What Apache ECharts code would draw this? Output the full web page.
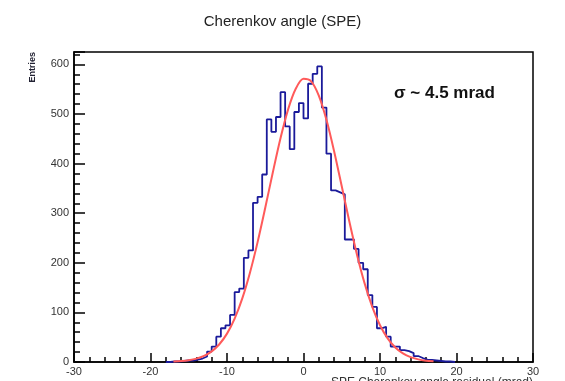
<!DOCTYPE html>
<html>
<head>
<meta charset="utf-8">
<script src="https://cdn.jsdelivr.net/npm/echarts@6/dist/echarts.min.js"></script>
<style>
html,body{margin:0;padding:0;background:#fff;}
#chart{width:565px;height:381px;}
</style>
</head>
<body>
<div id="chart"></div>
<script>
// Histogram definition (bins of 0.6 mrad starting at -18)
var binStart = -18;
var binWidth = 0.6;
var counts = [0, 1, 1, 2, 3, 3, 5, 7, 11, 21, 31, 51, 68, 74, 95, 141, 148, 210, 225,
  321, 333, 378, 489, 464, 494, 544, 475, 429, 504, 522, 491, 561, 581, 596, 513,
  420, 346, 342, 338, 247, 247, 228, 200, 187, 135, 111, 68, 71, 51, 31, 31, 24, 22,
  18, 12, 8, 5, 4, 3, 2, 1, 1, 0];

// Fit curve
var fitX = [-17,-16,-15,-14,-13,-12,-11,-10,-9,-8,-7,-6,-5,-4,-3,-2,-1,0,1,2,3,4,5,6,7,8,9,10,11,12,13,14,15,16,17];
var fitY = [0.9,1.8,3.6,6.8,12.3,21.5,35.8,57.2,87.5,128.3,180,241.7,311,383,451.6,509.9,551.4,570.9,565.9,537.2,488.3,425,354.2,282.6,215.9,158,110.7,74.2,47.7,29.3,17.3,9.7,5.3,2.7,1.3];

var xTicks = [-30, -20, -10, 0, 10, 20, 30];
var yTicks = [0, 100, 200, 300, 400, 500, 600];

var titleText = 'Cherenkov angle (SPE)';
var sigmaText = '\u03c3 ~ 4.5 mrad';
var yTitle = 'Entries';
var xTitle = 'SPE Cherenkov angle residual (mrad)';

var histData = [];
for (var i = 0; i < counts.length; i++) {
  histData.push([+(binStart + i * binWidth).toFixed(2), counts[i]]);
}
histData.push([+(binStart + counts.length * binWidth).toFixed(2), 0]);
var fitData = fitX.map(function (x, i) { return [x, fitY[i]]; });

var FONT = '"Liberation Sans", Arial, Helvetica, sans-serif';
var chart = echarts.init(document.getElementById('chart'), null, {renderer: 'canvas'});
var yMax = 625;
chart.setOption({
  animation: false,
  backgroundColor: '#fff',
  grid: {left: 74, right: 32, top: 52, bottom: 19, show: true, borderColor: '#000', borderWidth: 1.5, backgroundColor: 'transparent'},
  xAxis: [{
    type: 'value', min: xTicks[0], max: xTicks[xTicks.length - 1], interval: 10,
    position: 'bottom',
    axisLine: {show: true, onZero: false, lineStyle: {color: '#000', width: 1.5}},
    axisTick: {show: true, inside: true, length: 9, lineStyle: {color: '#000', width: 1.5}},
    minorTick: {show: true, splitNumber: 5, length: 5, lineStyle: {color: '#000', width: 1.5}},
    axisLabel: {show: true, fontFamily: FONT, fontSize: 11, color: '#333', margin: 4},
    splitLine: {show: false}, minorSplitLine: {show: false}
  }],
  yAxis: [{
    type: 'value', min: 0, max: yMax, interval: 100, position: 'left',
    axisLine: {show: true, onZero: false, lineStyle: {color: '#000', width: 1.5}},
    axisTick: {show: true, inside: true, length: 11, lineStyle: {color: '#000', width: 1.5}},
    axisLabel: {show: true, fontFamily: FONT, fontSize: 11, color: '#333', margin: 5,
      formatter: function (v) { return yTicks.indexOf(v) >= 0 ? String(v) : ''; }},
    splitLine: {show: false}
  }, {
    type: 'value', min: 0, max: yMax, interval: 20, position: 'left', offset: 0,
    axisLine: {show: false, onZero: false},
    axisTick: {show: true, inside: true, length: 6, lineStyle: {color: '#000', width: 1.5}},
    axisLabel: {show: false},
    splitLine: {show: false}
  }],
  graphic: [
    {type: 'text', left: 'center', top: 14, style: {text: titleText, font: 'normal 15px ' + FONT, fill: '#222'}},
    {type: 'text', x: 394, y: 93, style: {text: sigmaText, font: 'bold 17px ' + FONT, fill: '#111', verticalAlign: 'middle', align: 'left'}},
    {type: 'text', x: 33, y: 52, rotation: Math.PI / 2, style: {text: yTitle, font: 'bold 9px ' + FONT, fill: '#223', align: 'right', verticalAlign: 'middle'}},
    {type: 'text', x: 533, y: 377, style: {text: xTitle, font: 'normal 12px ' + FONT, fill: '#333', align: 'right', verticalAlign: 'top'}}
  ],
  series: [{
    type: 'line', step: 'end', data: histData, showSymbol: false, symbol: 'none',
    xAxisIndex: 0, yAxisIndex: 0,
    lineStyle: {color: '#1a1a9a', width: 1.8}, z: 3
  }, {
    type: 'line', smooth: 0.3, data: fitData, showSymbol: false, symbol: 'none',
    xAxisIndex: 0, yAxisIndex: 0,
    lineStyle: {color: '#ff5a5a', width: 2}, z: 4
  }]
});
</script>
</body>
</html>
